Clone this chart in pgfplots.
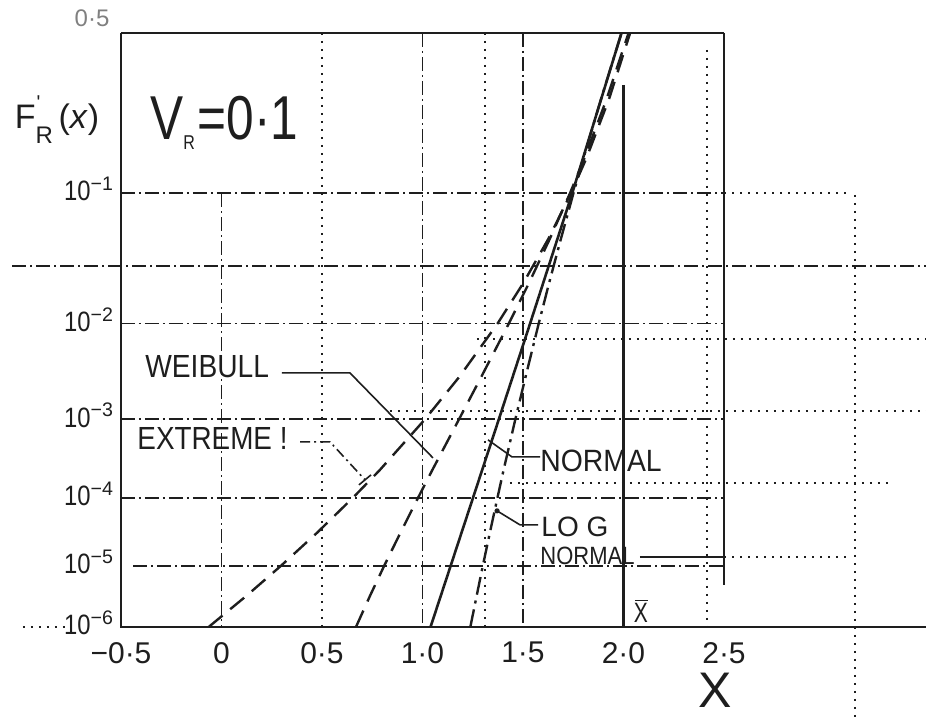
\documentclass[border=0pt]{standalone}
\usepackage{fontspec}
\setmainfont{Liberation Sans}
\usepackage{pgfplots}
\pgfplotsset{compat=1.18}
\definecolor{ink}{HTML}{1E1E1E}

\begin{document}
\begin{tikzpicture}[
  box/.style={ink, line width=1.1pt},
  griddd/.style={ink, line width=0.8pt, dash pattern=on 7pt off 2pt on 1pt off 2pt},
  griddot/.style={ink, line width=0.8pt, dash pattern=on 1pt off 3pt},
  lead/.style={ink, line width=0.8pt},
]
% page = 926 x 722 px at 0.5pt per px, axis box lower left at (0,0)
\useasboundingbox (-60.5pt,-47.5pt) rectangle (402.5pt,313.5pt);
\begin{axis}[
  at={(0,0)}, anchor=south west,
  scale only axis, width=301.5pt, height=297pt,
  xmin=-0.5, xmax=2.5, ymin=-4.7534, ymax=0,
  clip=false,
  axis line style={draw=none},
  major tick length=0pt,
  xtick={-0.5,0,0.5,1,1.5,2,2.5},
  xticklabels={−0·5,0,0·5,1·0,1·5,2·0,2·5},
  % y is the normal-probability scale (z of F), labelled in F
  ytick={-4.7534,-4.2649,-3.7190,-3.0902,-2.3263,-1.2816},
  yticklabels={
    \scalebox{0.85}[1]{10}\textsuperscript{−6},
    \scalebox{0.85}[1]{10}\textsuperscript{−5},
    \scalebox{0.85}[1]{10}\textsuperscript{−4},
    \scalebox{0.85}[1]{10}\textsuperscript{−3},
    \scalebox{0.85}[1]{10}\textsuperscript{−2},
    \scalebox{0.85}[1]{10}\textsuperscript{−1}},
  xticklabel style={font=\fontsize{15}{15}\selectfont, text=ink, yshift=-4pt},
  yticklabel style={font=\fontsize{14}{14}\selectfont, text=ink, yshift=2pt},
]

% frame
\draw[box] (-0.5,0) -- (2.5,0);
\draw[box] (-0.5,0) -- (-0.5,-4.7534) -- (3.505,-4.7534);
\draw[box] (2.5,0) -- (2.5,-4.416);
\draw[box] (2.0,-0.416) -- (2.0,-4.7534);
\draw[griddot] (-0.988,-4.7534) -- (-0.76,-4.7534);

% horizontal grid
\draw[griddd] (-0.5,-1.2816) -- (2.5,-1.2816);
\draw[griddot] (2.5,-1.2816) -- (3.13,-1.2816);
\draw[griddd] (-1.042,-1.864) -- (3.505,-1.864);
\draw[griddd] (-0.5,-2.3263) -- (2.5,-2.3263);
\draw[griddot] (1.271,-2.448) -- (3.505,-2.448);
\draw[griddot] (0.838,-3.024) -- (3.505,-3.024);
\draw[griddd] (-0.5,-3.0902) -- (2.5,-3.0902);
\draw[griddot] (1.435,-3.6) -- (3.326,-3.6);
\draw[griddd] (-0.5,-3.719) -- (2.5,-3.719);
\draw[ink, line width=0.8pt] (2.082,-4.192) -- (2.5,-4.192);
\draw[griddot] (2.5,-4.192) -- (3.127,-4.192);
\draw[griddd] (-0.44,-4.2649) -- (2.5,-4.2649);

% vertical grid
\draw[griddd] (0,-1.2816) -- (0,-4.7534);
\draw[griddot] (0.5,0) -- (0.5,-4.7534);
\draw[griddd] (1.0,0) -- (1.0,-4.7534);
\draw[griddot] (1.311,0) -- (1.311,-4.7534);
\draw[griddd] (1.5,0) -- (1.5,-4.7534);
\draw[griddot] (2.415,-0.136) -- (2.415,-4.7534);
\draw[griddot] (3.152,-1.296) -- (3.152,-5.51);

% NORMAL
\addplot[ink, line width=1.3pt] coordinates {
  (1.04,-4.7534) (1.38,-3.0902) (1.535,-2.3263) (1.745,-1.2816) (1.99,0)
};
% LOG NORMAL
\addplot[ink, line width=1.2pt, dash pattern=on 9pt off 3pt on 1.5pt off 3pt] coordinates {
  (1.238,-4.7534) (1.270,-4.5) (1.300,-4.2649) (1.335,-4.0) (1.373,-3.719)
  (1.403,-3.5) (1.462,-3.0902) (1.513,-2.75) (1.578,-2.3263) (1.630,-2.0)
  (1.689,-1.6449) (1.751,-1.2816) (1.801,-1.0) (1.889,-0.5244) (1.990,0)
};
% WEIBULL
\addplot[ink, line width=1.2pt, dash pattern=on 9pt off 5pt] coordinates {
  (0.669,-4.7534) (0.740,-4.5) (0.809,-4.2649) (0.890,-4.0) (0.978,-3.719)
  (1.048,-3.5) (1.182,-3.0902) (1.293,-2.75) (1.429,-2.3263) (1.530,-2.0)
  (1.634,-1.6449) (1.734,-1.2816) (1.806,-1.0) (1.917,-0.5244) (2.025,0)
};
% EXTREME I
\addplot[ink, line width=1.2pt, dash pattern=on 9pt off 5pt] coordinates {
  (-0.064,-4.7534) (0.127,-4.5) (0.295,-4.2649) (0.475,-4.0) (0.654,-3.719)
  (0.786,-3.5) (1.013,-3.0902) (1.184,-2.75) (1.373,-2.3263) (1.502,-2.0)
  (1.627,-1.6449) (1.739,-1.2816) (1.816,-1.0) (1.929,-0.5244) (2.033,0)
};

% leaders
\draw[lead] (0.301,-2.72) -- (0.639,-2.72) -- (1.052,-3.40);
\draw[lead, dash pattern=on 5pt off 2pt on 1pt off 2pt] (0.391,-3.272) -- (0.540,-3.272) -- (0.714,-3.576);
\draw[lead] (0.684,-3.616) -- (0.744,-3.536);
\draw[lead] (1.585,-3.392) -- (1.445,-3.392) -- (1.326,-3.256);
\draw[lead] (1.575,-3.936) -- (1.485,-3.936) -- (1.371,-3.824);
\fill[ink] (1.371,-3.824) circle (1.3pt);

% labels
\node[ink, font=\fontsize{17}{17}\selectfont] at (-0.818,-0.696)
  {F\rlap{\raisebox{0.55em}{\fontsize{10}{10}\selectfont\kern0.05em\textquotesingle}}\raisebox{-0.45em}{\fontsize{12}{12}\selectfont R}\,(\textit{x})};
\node[ink, anchor=base west, inner sep=0pt, font=\fontsize{31}{31}\selectfont] at (-0.356,-0.856)
  {\scalebox{0.8}[1]{V\raisebox{-5pt}{\fontsize{10}{10}\selectfont R}\kern0.05em=0·1}};
\node[ink, anchor=base west, inner sep=0pt, font=\fontsize{16}{16}\selectfont] at (-0.381,-2.76)
  {\scalebox{0.88}[1]{WEIBULL}};
\node[ink, anchor=base west, inner sep=0pt, font=\fontsize{16}{16}\selectfont] at (-0.420,-3.336)
  {\scalebox{0.87}[1]{EXTREME !}};
\node[ink, anchor=base west, inner sep=0pt, font=\fontsize{15.4}{15.4}\selectfont] at (1.585,-3.512)
  {\scalebox{0.92}[1]{NORMAL}};
\node[ink, anchor=base west, inner sep=0pt, font=\fontsize{14}{14}\selectfont] at (1.59,-4.032)
  {LO G};
\node[ink, anchor=base west, inner sep=0pt, font=\fontsize{12.5}{12.5}\selectfont] at (1.585,-4.256)
  {\scalebox{0.88}[1]{NORMAL}};
\node[ink, anchor=base west, inner sep=0pt, font=\fontsize{14}{14}\selectfont] at (2.05,-4.72)
  {\scalebox{0.75}[1]{X}\llap{\raisebox{0.78em}{\rule{0.45em}{0.6pt}}}};
\node[ink, inner sep=0pt, font=\fontsize{25}{25}\selectfont] at (2.455,-5.26) {X};
\node[gray, font=\fontsize{12}{12}\selectfont] at (-0.644,0.12) {0·5};

\end{axis}
\end{tikzpicture}
\end{document}
